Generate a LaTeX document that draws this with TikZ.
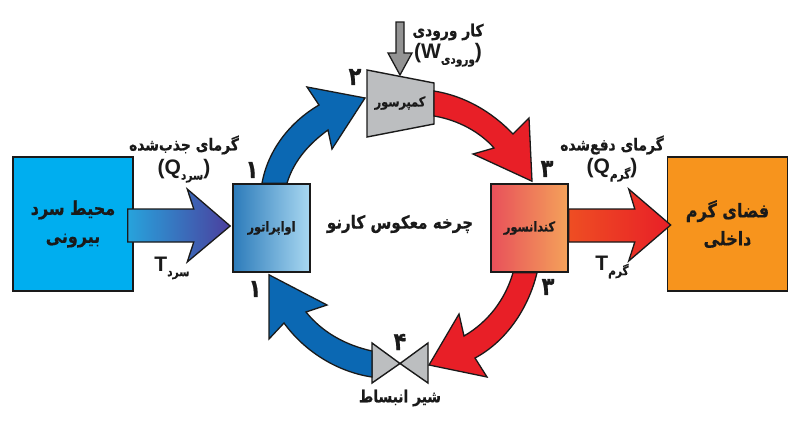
\documentclass[tikz,border=0pt]{standalone}
\usepackage{fontspec}
\usetikzlibrary{calc}
\setmainfont{Liberation Sans}
\TeXXeTstate=1
\newfontfamily\arabicfont[Script=Arabic,FakeStretch=0.84,BoldFeatures={FakeStretch=0.84,FakeBold=0.6}]{DejaVu Sans}
\definecolor{inkdark}{HTML}{1A1A1A}
\definecolor{coldblue}{HTML}{00AEEF}
\definecolor{cycleblue}{HTML}{0B68B3}
\definecolor{cyclered}{HTML}{E81F27}
\definecolor{hotorange}{HTML}{F7941D}
\definecolor{machinegray}{HTML}{BCBEC0}
\definecolor{arrowindigo}{HTML}{4B3F9E}
\definecolor{arrowcyan}{HTML}{27A3DC}
\definecolor{evapdark}{HTML}{2C7BBA}
\definecolor{evaplight}{HTML}{A9D8F1}
\definecolor{condleft}{HTML}{E8505A}
\definecolor{condright}{HTML}{F4A25A}
\newcommand{\fa}[1]{{\arabicfont\bfseries\beginR #1\endR}}
\newcommand{\subfa}[1]{\raisebox{-5pt}{\fontsize{12.5}{12}\selectfont\fa{#1}}}
\tikzset{
  spacebox/.style={draw=inkdark, line width=1.6pt, minimum width=120pt, minimum height=134pt, align=center, font=\fontsize{19}{28}\selectfont, text=inkdark},
  unitbox/.style={draw=inkdark, line width=1.6pt, minimum width=77pt, minimum height=88pt, text=inkdark, font=\fontsize{13.5}{12}\selectfont},
  blockarrow/.style={draw=inkdark, line width=1.3pt, line join=miter},
  machine/.style={draw=inkdark, line width=1.4pt, fill=machinegray, line join=miter},
  textlabel/.style={text=inkdark, inner sep=0pt, font=\fontsize{16.5}{16}\selectfont},
  latinlabel/.style={text=inkdark, inner sep=0pt, font=\fontsize{21}{21}\selectfont\bfseries},
  numlabel/.style={text=inkdark, inner sep=0pt, font=\fontsize{25}{25}\selectfont}
}
\begin{document}
\begin{tikzpicture}[x=1pt,y=-1pt]
  \useasboundingbox (0,0) rectangle (800,447);

  % Spaces and units
  \node[spacebox, fill=coldblue] (cold) at (73,224) {\fa{محیط سرد}\\\fa{بیرونی}};
  \node[spacebox, fill=hotorange] (hot) at (727.5,224) {\fa{فضای گرم}\\\fa{داخلی}};
  \node[unitbox, left color=evapdark, right color=evaplight] (evap) at (271.5,228) {\fa{اواپراتور}};
  \node[unitbox, left color=condleft, right color=condright] (cond) at (529.5,228) {\fa{کندانسور}};

  % Compressor
  \draw[machine] (367,70) -- (434,83) -- (434,124) -- (367,137) -- cycle;
  \node[text=inkdark, font=\fontsize{13.5}{12}\selectfont] (comp) at (400,103) {\fa{کمپرسور}};
  \coordinate (compin) at (365,98);
  \coordinate (compout) at (434,103.5);
  \coordinate (comptop) at (400,75);

  % Valve
  \coordinate (valve) at (400,363.5);
  \draw[machine] (valve) -- (372,343) -- (372,383) -- cycle;
  \draw[machine] (valve) -- (428,343) -- (428,383) -- cycle;
  \coordinate (valvein) at (429,365);
  \coordinate (valveout) at (372,364);

  % Heat arrows
  \draw[blockarrow, left color=arrowcyan, right color=arrowindigo]
    ($(cold.east)+(-6,-15)$) -- ++(66,0) -- ($(evap.west)+(-45,-39)$) -- ($(evap.west)+(-2,-2)$) -- ($(evap.west)+(-45,34)$) -- ($(cold.east)+(60,18)$) -- ($(cold.east)+(-6,18)$) -- cycle;
  \draw[blockarrow, left color=cyclered!60!hotorange, right color=cyclered]
    ($(cond.east)+(0,-19)$) -- ++(66,0) -- ($(hot.west)+(-38,-35)$) -- ($(hot.west)+(4,1)$) -- ($(hot.west)+(-38,37)$) -- ($(cond.east)+(66,14)$) -- ($(cond.east)+(0,14)$) -- cycle;

  % Work arrow
  \coordinate (workstart) at (400,22);
  \draw[blockarrow, fill=gray!85] ($(workstart)+(-4,0)$) -- ($(workstart)+(4,0)$) -- ($(workstart)+(4,31)$) -- ($(workstart)+(12,31)$) -- (comptop) -- ($(workstart)+(-12,31)$) -- ($(workstart)+(-4,31)$) -- cycle;

  % Cycle arrows
  \draw[blockarrow, fill=cycleblue] ($(evap.north)+(-9.5,0)$) .. controls (268,150) and (290,122) .. (319,105) -- (307,87) -- (compin) -- (332,149) -- (328,130) .. controls (310,143) and (294,160) .. ($(evap.north)+(15.5,0)$) -- cycle;
  \draw[blockarrow, fill=cyclered] ($(compout)+(0,-12.5)$) .. controls (465,96) and (492,112) .. (513,134) -- (529,118) -- ($(cond.north)+(2.5,-2)$) -- (473,154) -- (494,148) .. controls (480,132) and (458,120) .. ($(compout)+(0,12.5)$) -- cycle;
  \draw[blockarrow, fill=cyclered] ($(cond.south)+(-16.5,0)$) .. controls (505,300) and (488,322) .. (464,336) -- (459,314) -- (valvein) -- (487,377) -- (475,358) .. controls (505,342) and (528,310) .. ($(cond.south)+(7.5,0)$) -- cycle;
  \draw[blockarrow, fill=cycleblue] ($(valveout)+(0,-13)$) .. controls (345,345) and (322,332) .. (306,312) -- (327,305) -- ($(evap.south)+(-2.5,2)$) -- (269,339) -- (284,323) .. controls (305,352) and (338,372) .. ($(valveout)+(0,13)$) -- cycle;

  % Labels
  \node[textlabel, font=\fontsize{18}{18}\selectfont] (title) at (400,224) {\fa{چرخه معکوس کارنو}};
  \node[textlabel] (valvelabel) at (400,398) {\fa{شیر انبساط}};
  \node[textlabel] (heatin) at (184,145) {\fa{گرمای جذب‌شده}};
  \node[latinlabel] (heatinq) at (184,171) {(Q\subfa{سرد})};
  \node[latinlabel] (coldtemp) at (172,268) {T\subfa{سرد}};
  \node[textlabel] (heatout) at (612,145) {\fa{گرمای دفع‌شده}};
  \node[latinlabel] (heatoutq) at (612,170) {(Q\subfa{گرم})};
  \node[latinlabel] (hottemp) at (612,267) {T\subfa{گرم}};
  \node[textlabel] (work) at (448,32) {\fa{کار ورودی}};
  \node[latinlabel] (workw) at (448,55) {(W\subfa{ورودی})};

  % Numbers
  \node[numlabel] (numa) at (252,170) {\fa{۱}};
  \node[numlabel] (numb) at (255,289) {\fa{۱}};
  \node[numlabel] (numc) at (355,77) {\fa{۲}};
  \node[numlabel] (numd) at (547,169) {\fa{۳}};
  \node[numlabel] (nume) at (548,287) {\fa{۳}};
  \node[numlabel] (numf) at (400,342) {\fa{۴}};
\end{tikzpicture}
\end{document}
